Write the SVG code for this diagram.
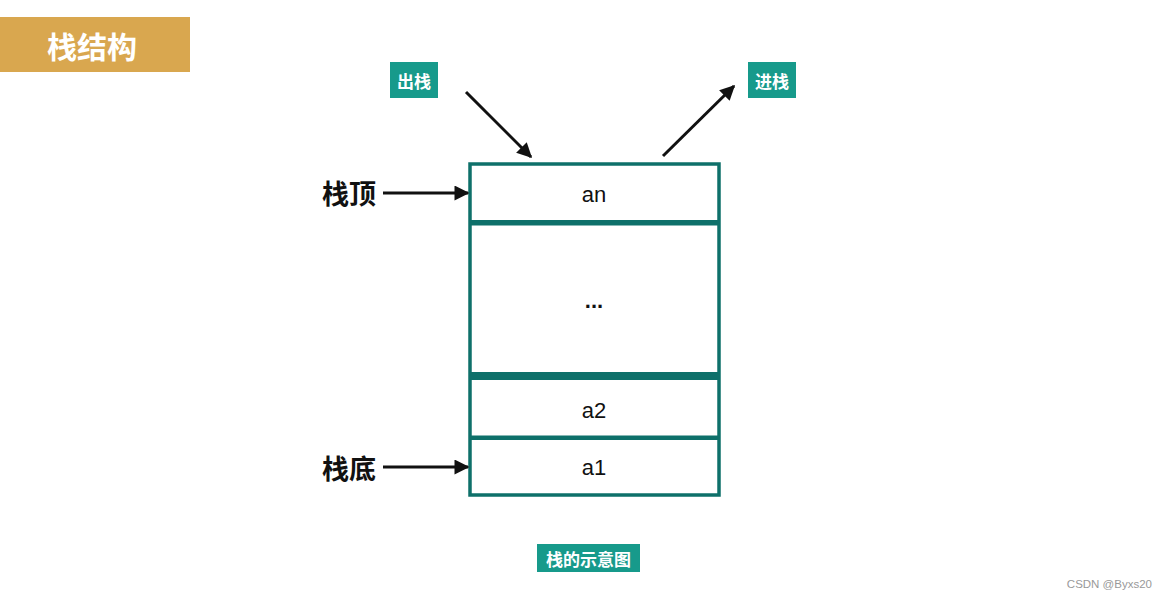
<svg xmlns="http://www.w3.org/2000/svg" width="1166" height="600" viewBox="0 0 1166 600">
<style>
.cjk{font-family:"Noto Sans CJK SC","Liberation Sans",sans-serif}
.tag{fill:#179a8b}
.tagt{font-family:"Noto Sans CJK SC",sans-serif;font-size:17px;font-weight:bold;fill:#fff;text-anchor:middle;dominant-baseline:central}
.lbl{font-family:"Noto Sans CJK SC",sans-serif;font-size:27px;font-weight:bold;fill:#111;dominant-baseline:central}
.cell{font-family:"Liberation Sans",Arial,sans-serif;font-size:22px;fill:#111;text-anchor:middle;dominant-baseline:central}
.conn{stroke:#111;stroke-width:3;fill:none;marker-end:url(#ah)}
.bd{fill:#0e706a}
</style>
<defs>
<marker id="ah" viewBox="0 0 10 10" refX="9" refY="5" markerWidth="5.5" markerHeight="5" orient="auto" markerUnits="strokeWidth">
<path d="M0,0 L10,5 L0,10 z" fill="#111"/>
</marker>
</defs>
<rect width="1166" height="600" fill="#fff"/>
<g id="title">
<rect x="0" y="17" width="190" height="55" fill="#d9a74f"/>
<text x="92" y="45" class="cjk" font-size="30" font-weight="bold" fill="#fff" text-anchor="middle" dominant-baseline="central">栈结构</text>
</g>
<g id="pop">
<rect class="tag" x="390" y="62" width="48" height="36"/>
<text class="tagt" x="414" y="80">出栈</text>
</g>
<g id="push">
<rect class="tag" x="748" y="62" width="48" height="36"/>
<text class="tagt" x="772" y="80">进栈</text>
</g>
<g id="stack">
<rect x="470" y="164" width="249" height="331" fill="#fff" stroke="#0e706a" stroke-width="3.5"/>
<rect class="bd" x="470" y="220" width="249" height="5.5"/>
<rect class="bd" x="470" y="372" width="249" height="8"/>
<rect class="bd" x="470" y="435.5" width="249" height="4.5"/>
<text class="cell" x="594" y="194">an</text>
<text class="cell" x="594" y="300" font-weight="bold">...</text>
<text class="cell" x="594" y="410">a2</text>
<text class="cell" x="594" y="467">a1</text>
</g>
<g id="top-label">
<text class="lbl" x="322" y="192">栈顶</text>
</g>
<g id="bottom-label">
<text class="lbl" x="322" y="467">栈底</text>
</g>
<g id="caption">
<rect class="tag" x="537" y="544" width="103" height="28"/>
<text class="tagt" x="588.5" y="558">栈的示意图</text>
</g>
<g id="connectors">
<line class="conn" x1="466" y1="92" x2="531" y2="157"/>
<line class="conn" x1="663" y1="156" x2="734" y2="86"/>
<line class="conn" x1="383" y1="193" x2="468" y2="193"/>
<line class="conn" x1="383" y1="467" x2="468" y2="467"/>
</g>
<text x="1152" y="584" font-family="Liberation Sans,Arial,sans-serif" font-size="11.5" fill="#999" text-anchor="end" dominant-baseline="central">CSDN @Byxs20</text>
</svg>
